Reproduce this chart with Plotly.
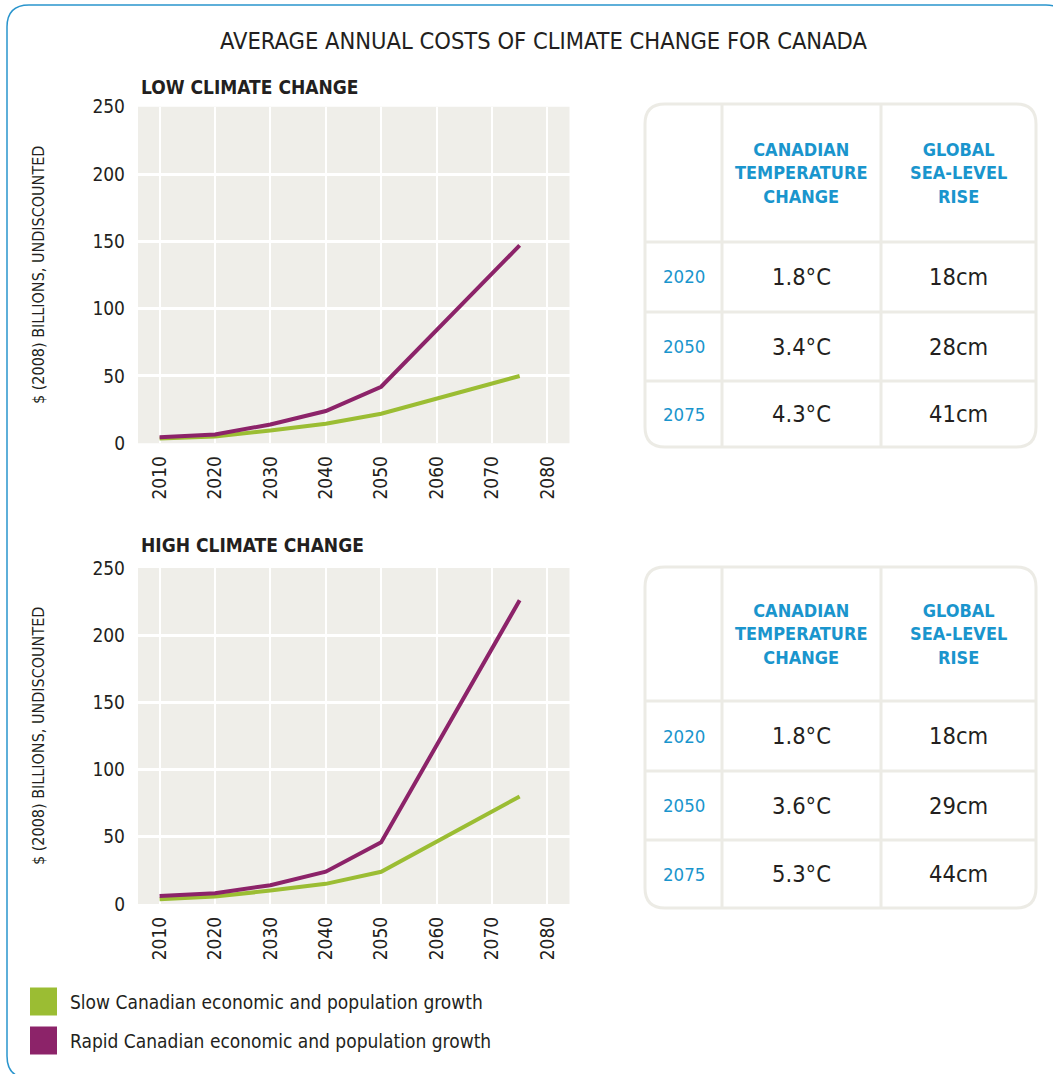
import plotly.graph_objects as go

# ---- data ----
years = [2010, 2020, 2030, 2040, 2050, 2075]
low_slow = [3.5, 5, 9.5, 14.5, 22, 50]
low_rapid = [4.5, 6.5, 14, 24, 42, 147]
high_slow = [3.5, 5.5, 10, 15, 24, 80]
high_rapid = [6, 8, 14, 24, 46, 226]

x_ticks = [2010, 2020, 2030, 2040, 2050, 2060, 2070, 2080]
y_ticks = [0, 50, 100, 150, 200, 250]

table_header = ["CANADIAN<br>TEMPERATURE<br>CHANGE", "GLOBAL<br>SEA-LEVEL<br>RISE"]
table_years = ["2020", "2050", "2075"]
low_temp = ["1.8°C", "3.4°C", "4.3°C"]
low_sea = ["18cm", "28cm", "41cm"]
high_temp = ["1.8°C", "3.6°C", "5.3°C"]
high_sea = ["18cm", "29cm", "44cm"]

series_names = ["Slow Canadian economic and population growth",
                "Rapid Canadian economic and population growth"]

GREEN = "#9BBD33"
PURPLE = "#8C2369"
BLUE = "#1A95CD"
DARK = "#231F20"
PANEL = "#EFEEE9"
TABLE_LINE = "#ECEBE5"
FONT = "Liberation Sans Narrow, DejaVu Sans Condensed, Arial Narrow, sans-serif"

W, H = 1053, 1074


def px(x):
    return x / W


def py(y):
    return 1 - y / H


fig = go.Figure()

# line traces
panels = [("x", "y", low_slow, low_rapid), ("x2", "y2", high_slow, high_rapid)]
for xa, ya, slow, rapid in panels:
    fig.add_trace(go.Scatter(x=years, y=slow, mode="lines", xaxis=xa, yaxis=ya,
                             line=dict(color=GREEN, width=4), name=series_names[0]))
    fig.add_trace(go.Scatter(x=years, y=rapid, mode="lines", xaxis=xa, yaxis=ya,
                             line=dict(color=PURPLE, width=4), name=series_names[1]))

xaxis_style = dict(range=[2006.1, 2084], tickvals=x_ticks, tickangle=-90,
                   showgrid=True, gridcolor="white", gridwidth=2, zeroline=False,
                   showline=False, ticks="", ticklabelstandoff=8,
                   tickfont=dict(family=FONT, size=19, color=DARK))
yaxis_style = dict(range=[0, 250], tickvals=y_ticks,
                   showgrid=True, gridcolor="white", gridwidth=2.5, zeroline=False,
                   showline=False, ticks="", ticklabelstandoff=12,
                   tickfont=dict(family=FONT, size=19, color=DARK))

fig.update_layout(
    xaxis=dict(domain=[px(138), px(569.5)], anchor="y", **xaxis_style),
    yaxis=dict(domain=[py(443.3), py(106.7)], anchor="x", **yaxis_style),
    xaxis2=dict(domain=[px(138), px(569.5)], anchor="y2", **xaxis_style),
    yaxis2=dict(domain=[py(904), py(568)], anchor="x2", **yaxis_style),
)

shapes = []
annotations = []


def note(text, x, y, size, color=DARK, xanchor="center", **kw):
    annotations.append(dict(text=text, x=px(x), y=py(y), xref="paper", yref="paper",
                            showarrow=False, xanchor=xanchor, yanchor="middle",
                            font=dict(family=FONT, size=size, color=color), **kw))


# panel backgrounds
for xa, ya in [("x", "y"), ("x2", "y2")]:
    shapes.append(dict(type="rect", xref=xa + " domain", yref=ya + " domain",
                       x0=0, x1=1, y0=0, y1=1,
                       fillcolor=PANEL, line=dict(width=0), layer="below"))

# outer blue rounded border
r = 22
x0, y0, x1, y1 = 7, 5, 1068, 1078
path = (f"M {px(x0)},{py(y1 - r)} L {px(x0)},{py(y0 + r)} "
        f"Q {px(x0)},{py(y0)} {px(x0 + r)},{py(y0)} "
        f"L {px(x1 - r)},{py(y0)} Q {px(x1)},{py(y0)} {px(x1)},{py(y0 + r)} "
        f"L {px(x1)},{py(y1 - r)} Q {px(x1)},{py(y1)} {px(x1 - r)},{py(y1)} "
        f"L {px(x0 + r)},{py(y1)} Q {px(x0)},{py(y1)} {px(x0)},{py(y1 - r)} Z")
shapes.append(dict(type="path", xref="paper", yref="paper", path=path,
                   line=dict(color="#2A95CD", width=1.5)))

# titles
note("AVERAGE ANNUAL COSTS OF CLIMATE CHANGE FOR CANADA", 543, 41, 23.5)
note("<b>LOW CLIMATE CHANGE</b>", 139, 87, 19, xanchor="left")
note("<b>HIGH CLIMATE CHANGE</b>", 139, 545, 19, xanchor="left")
for ya in ["y", "y2"]:
    annotations.append(dict(text="$ (2008) BILLIONS, UNDISCOUNTED", textangle=-90,
                            x=px(38), y=0.5, xref="paper", yref=ya + " domain",
                            showarrow=False, xanchor="center", yanchor="middle",
                            font=dict(family=FONT, size=16, color=DARK)))


# tables
def add_table(top, dividers, bottom, temps, seas):
    left, right = 645, 1036
    cols = [722, 881]
    rr = 20
    p = (f"M {px(left)},{py(top + rr)} Q {px(left)},{py(top)} {px(left + rr)},{py(top)} "
         f"L {px(right - rr)},{py(top)} Q {px(right)},{py(top)} {px(right)},{py(top + rr)} "
         f"L {px(right)},{py(bottom - rr)} Q {px(right)},{py(bottom)} {px(right - rr)},{py(bottom)} "
         f"L {px(left + rr)},{py(bottom)} Q {px(left)},{py(bottom)} {px(left)},{py(bottom - rr)} Z")
    shapes.append(dict(type="path", xref="paper", yref="paper", path=p,
                       line=dict(color=TABLE_LINE, width=3)))
    for c in cols:
        shapes.append(dict(type="line", xref="paper", yref="paper",
                           x0=px(c), x1=px(c), y0=py(top), y1=py(bottom),
                           line=dict(color=TABLE_LINE, width=3)))
    for d in dividers:
        shapes.append(dict(type="line", xref="paper", yref="paper",
                           x0=px(left), x1=px(right), y0=py(d), y1=py(d),
                           line=dict(color=TABLE_LINE, width=3)))
    col_centers = [(left + cols[0]) / 2, (cols[0] + cols[1]) / 2, (cols[1] + right) / 2]
    head_c = (top + dividers[0]) / 2
    for i, h in enumerate(table_header):
        note("<b>" + h + "</b>", col_centers[i + 1], head_c, 18, color=BLUE, align="center")
    edges = dividers + [bottom]
    for i in range(3):
        yc = (edges[i] + edges[i + 1]) / 2
        note(table_years[i], col_centers[0], yc, 18.5, color=BLUE)
        note(temps[i], col_centers[1], yc, 23.5)
        note(seas[i], col_centers[2], yc, 23.5)


add_table(104, [242, 312, 381], 447, low_temp, low_sea)
add_table(567, [701, 771, 840], 908, high_temp, high_sea)

# legend
for i, (col, yc) in enumerate([(GREEN, 1001.5), (PURPLE, 1040.5)]):
    shapes.append(dict(type="rect", xref="paper", yref="paper",
                       x0=px(30), x1=px(57), y0=py(yc - 14), y1=py(yc + 14),
                       fillcolor=col, line=dict(width=0)))
    note(series_names[i], 68, yc, 19, xanchor="left")

fig.update_layout(
    width=W, height=H,
    margin=dict(l=0, r=0, t=0, b=0, autoexpand=False),
    paper_bgcolor="white", plot_bgcolor="rgba(0,0,0,0)",
    showlegend=False,
    shapes=shapes, annotations=annotations,
    font=dict(family=FONT, color=DARK),
)

fig.write_html("out.html", config={"displayModeBar": False},
               post_script="document.body.style.margin='0';")
